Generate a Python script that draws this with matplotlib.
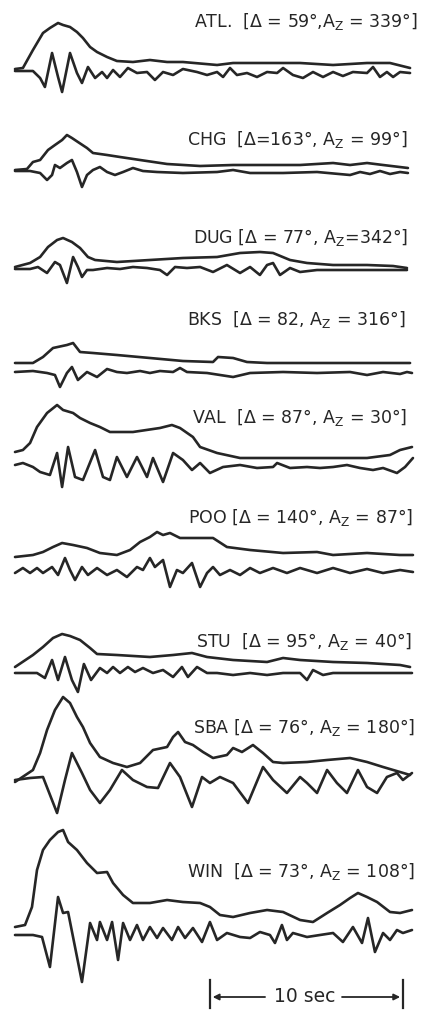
import numpy as np
import matplotlib.pyplot as plt

# estaciones y rotulos
labels = [
    "ATL.  [Δ = 59°,A$_\\mathregular{Z}$ = 339°]",
    "CHG  [Δ=163°, A$_\\mathregular{Z}$ = 99°]",
    "DUG [Δ = 77°, A$_\\mathregular{Z}$=342°]",
    "BKS  [Δ = 82, A$_\\mathregular{Z}$ = 316°]",
    "VAL  [Δ = 87°, A$_\\mathregular{Z}$ = 30°]",
    "POO [Δ = 140°, A$_\\mathregular{Z}$ = 87°]",
    "STU  [Δ = 95°, A$_\\mathregular{Z}$ = 40°]",
    "SBA [Δ = 76°, A$_\\mathregular{Z}$ = 180°]",
    "WIN  [Δ = 73°, A$_\\mathregular{Z}$ = 108°]",
]

# tiempo (s) y amplitud (unidades arbitrarias) -- envolvente y sismograma
atl_env_t = [0, 0.41, 0.93, 1.45, 1.81, 2.23, 2.49, 2.85, 3.21, 3.52, 3.89, 4.25, 4.77, 5.28, 6.11, 6.99, 7.88, 8.70,
             10.47, 11.30, 13.06, 14.77, 16.48, 18.24, 19.43, 20.47]
atl_env = [3, 4, 22, 39, 44, 49, 47, 45, 40, 34, 25, 20, 15, 11, 10, 12, 10, 10, 7, 9, 9, 9, 7, 9, 9, 4]
atl_wav_t = [0, 0.93, 1.30, 1.55, 1.92, 2.23, 2.44, 2.85, 3.21, 3.47, 3.78, 4.15, 4.51, 4.77, 5.08, 5.44, 5.85, 6.32,
             6.84, 7.25, 7.67, 8.19, 8.70, 9.43, 9.95, 10.47, 10.78, 11.14, 11.50, 12.02, 12.54, 13.06, 13.58, 13.89,
             14.40, 14.92, 15.44, 15.96, 16.48, 16.99, 17.51, 18.24, 18.55, 18.91, 19.27, 19.59, 19.95, 20.47]
atl_wav = [1, 1, -6, -15, 19, -5, -20, 19, -1, -11, 5, -6, 0, -6, 2, -5, 4, -1, 0, -8, 0, -3, 3, 0, -3, 0, -5, 4, -3,
           -1, -5, 0, -1, 4, -3, -6, 0, -5, 0, -4, 0, -1, 5, -5, 0, -5, 0, -1]

chg_env_t = [0, 0.62, 0.93, 1.30, 1.71, 2.07, 2.44, 2.69, 2.95, 3.26, 3.73, 4.04, 4.77, 5.44, 6.48, 7.88, 9.59, 11.30,
             13.06, 14.77, 16.48, 17.36, 18.24, 19.07, 20.36]
chg_env = [1, 2, 9, 11, 21, 26, 31, 36, 33, 29, 23, 18, 16, 14, 11, 7, 5, 6, 6, 6, 8, 6, 8, 6, 3]
chg_wav_t = [0, 0.78, 1.30, 1.66, 1.92, 2.07, 2.33, 2.69, 2.95, 3.21, 3.47, 3.73, 4.04, 4.40, 4.77, 5.18, 5.60, 6.11,
             6.63, 7.36, 8.70, 10.47, 11.30, 12.18, 13.89, 15.65, 17.36, 17.88, 18.39, 18.91, 19.43, 19.95, 20.36]
chg_wav = [0, 0, -2, -9, -4, 6, 3, 8, 11, -1, -16, -4, 1, 4, -1, -4, -1, 3, 0, -1, -2, -1, 1, -2, -2, -1, -4, -1, -3,
           0, -3, -1, -2]

dug_env_t = [0, 0.78, 1.30, 1.71, 2.18, 2.49, 2.95, 3.37, 3.78, 4.15, 5.28, 6.99, 8.70, 10.47, 11.66, 12.69, 13.37,
             14.25, 15.13, 16.48, 18.24, 19.59, 20.31]
dug_env = [3, 7, 13, 23, 30, 32, 28, 22, 13, 10, 8, 10, 12, 13, 17, 18, 17, 10, 7, 5, 5, 4, 2]
dug_wav_t = [0, 0.78, 1.19, 1.66, 2.07, 2.33, 2.69, 3.01, 3.26, 3.47, 3.73, 4.04, 4.77, 5.44, 6.11, 6.84, 7.51, 7.88,
             8.29, 8.91, 9.59, 10.26, 10.98, 11.66, 12.18, 12.69, 13.06, 13.37, 13.73, 14.25, 14.77, 15.65, 17.36,
             19.07, 20.31]
dug_wav = [1, 1, 3, -3, 8, 5, -13, 13, 3, -7, 0, 0, 2, 1, 3, 2, 0, -5, 3, 2, 3, -2, 5, -3, 3, -5, 5, 7, -5, 2, -2, 0,
           0, 0, 0]

bks_env_t = [0, 0.93, 1.45, 1.97, 2.69, 3.01, 3.37, 4.04, 5.28, 6.99, 8.70, 10.26, 10.52, 11.30, 12.02, 13.06, 14.77,
             16.48, 18.24, 20.47]
bks_env = [9, 9, 15, 24, 27, 29, 20, 19, 17, 14, 11, 10, 15, 14, 10, 9, 9, 9, 9, 9]
bks_wav_t = [0, 0.93, 1.66, 2.07, 2.33, 2.69, 2.95, 3.26, 3.73, 4.25, 4.77, 5.28, 5.80, 6.48, 6.99, 7.51, 8.19, 8.55,
             8.91, 9.95, 11.30, 12.18, 13.89, 15.65, 17.36, 18.24, 19.07, 19.95, 20.31, 20.57]
bks_wav = [0, 1, -1, -3, -15, -1, 5, -8, 0, -5, 3, 0, -1, 1, -1, 1, 0, 4, 0, -1, -5, -1, 0, -1, 0, -3, 0, -2, 0, -1]

val_env_t = [0, 0.41, 0.78, 1.14, 1.66, 2.18, 2.49, 3.01, 3.37, 3.89, 4.40, 4.92, 6.11, 7.51, 8.13, 8.55, 9.22, 9.59,
             10.47, 11.66, 13.06, 14.77, 16.48, 18.24, 19.43, 19.95, 20.57]
val_env = [13, 15, 22, 38, 52, 60, 55, 52, 47, 42, 38, 33, 33, 37, 40, 37, 28, 18, 12, 7, 7, 7, 7, 7, 10, 15, 18]
val_wav_t = [0, 0.41, 0.93, 1.30, 1.81, 2.18, 2.44, 2.75, 3.11, 3.52, 4.15, 4.56, 4.92, 5.28, 5.80, 6.32, 6.84, 7.15,
             7.67, 8.19, 8.70, 9.17, 9.59, 10.10, 10.78, 11.66, 12.54, 13.37, 13.58, 14.25, 15.13, 15.80, 16.48,
             17.20, 17.88, 18.55, 19.07, 19.79, 20.21, 20.62]
val_wav = [0, 2, -2, -7, -10, 12, -22, 18, -12, -15, 15, -12, -15, 8, -12, 8, -12, 7, -17, 12, 5, -5, 2, -8, -2, 0,
           -3, -2, 2, -3, -2, -3, -2, 0, -3, -5, -3, -8, -2, 7]

poo_env_t = [0, 0.93, 1.45, 1.97, 2.44, 3.01, 3.73, 4.40, 5.28, 5.96, 6.48, 6.99, 7.36, 7.67, 8.03, 8.55, 9.59, 10.26,
             10.98, 12.18, 13.89, 15.65, 16.48, 18.24, 19.95, 20.62]
poo_env = [13, 15, 18, 23, 27, 25, 22, 17, 15, 20, 28, 33, 38, 35, 37, 32, 32, 32, 23, 20, 17, 18, 15, 17, 15, 15]
poo_wav_t = [0, 0.41, 0.78, 1.14, 1.45, 1.92, 2.23, 2.59, 2.85, 3.11, 3.47, 3.78, 4.25, 4.77, 5.28, 5.80, 6.32, 6.63,
             6.99, 7.25, 7.67, 8.03, 8.39, 8.70, 9.17, 9.59, 9.95, 10.26, 10.62, 11.14, 11.66, 12.18, 12.69, 13.37,
             14.09, 14.77, 15.65, 16.48, 17.36, 18.24, 19.07, 19.95, 20.62]
poo_wav = [-3, 2, -3, 2, -3, 3, -5, 12, 0, -10, 3, -5, 2, -5, 0, -7, 3, 0, 12, 3, 10, -17, 0, -3, 7, -17, -3, 3, -5,
           0, -5, 2, -3, 2, -3, 2, -3, 2, -3, 1, -3, 0, -2]

stu_env_t = [0, 0.93, 1.45, 1.97, 2.44, 2.85, 3.37, 3.89, 4.25, 5.28, 6.99, 8.19, 9.17, 9.95, 11.30, 13.06, 13.89,
             14.77, 16.48, 18.24, 19.95, 20.47]
stu_env = [6, 18, 26, 35, 39, 37, 33, 25, 19, 18, 16, 18, 20, 16, 13, 11, 15, 13, 11, 10, 8, 6]
stu_wav_t = [0, 1.14, 1.55, 1.92, 2.23, 2.59, 2.95, 3.26, 3.57, 3.94, 4.40, 4.77, 5.08, 5.44, 5.85, 6.22, 6.63, 7.15,
             7.67, 8.19, 8.65, 8.96, 9.43, 9.95, 10.47, 11.30, 12.18, 13.06, 13.89, 14.77, 15.13, 15.44, 15.96, 16.48,
             18.24, 20.57]
stu_wav = [0, 0, -5, 13, -7, 16, -7, -19, 9, -7, 5, 0, 6, 0, 6, 1, 5, 0, 3, -4, 6, -4, 6, 0, 0, -2, 0, -2, 0, 0, -7,
           3, -2, 0, 0, 0]

sba_env_t = [0, 0.93, 1.30, 1.66, 2.07, 2.49, 2.85, 3.21, 3.52, 3.89, 4.40, 5.08, 5.80, 6.48, 7.15, 7.88, 8.19, 8.45,
             8.81, 9.22, 9.74, 10.26, 10.98, 11.30, 11.76, 12.33, 12.85, 13.37, 13.89, 15.13, 16.17, 17.36, 18.24,
             19.07, 19.95, 20.47]
sba_env = [0, 12, 29, 52, 72, 85, 79, 65, 55, 39, 25, 19, 15, 19, 32, 35, 45, 50, 40, 37, 30, 24, 27, 34, 30, 37, 29,
           20, 19, 20, 22, 24, 20, 15, 10, 7]
sba_wav_t = [0, 0.78, 1.45, 2.18, 2.59, 2.95, 3.47, 3.89, 4.40, 4.92, 5.54, 6.11, 6.84, 7.41, 8.03, 8.55, 9.17, 9.69,
             10.10, 10.62, 11.30, 12.07, 12.85, 13.37, 14.09, 14.77, 15.13, 15.65, 16.17, 16.68, 17.20, 17.77, 18.24,
             18.76, 19.27, 19.79, 20.10, 20.57]
sba_wav = [2, 4, 5, -31, 2, 29, 9, -8, -21, -8, 12, 2, -5, -6, 19, 5, -25, 5, -1, 5, -1, -21, 15, 2, -11, 5, -1, -11,
           12, -1, -11, 12, -5, -11, 5, 9, 2, 9]

win_env_t = [0, 0.52, 0.88, 1.14, 1.45, 1.81, 2.23, 2.49, 2.75, 3.21, 3.73, 4.25, 4.77, 5.08, 5.60, 6.11, 6.99, 7.88,
             8.70, 9.59, 10.10, 10.62, 11.30, 12.18, 13.06, 13.89, 14.77, 15.44, 16.17, 16.84, 17.36, 17.77, 18.24,
             18.76, 19.43, 19.95, 20.57]
win_env = [8, 10, 28, 65, 85, 95, 103, 105, 93, 85, 72, 62, 63, 52, 40, 32, 32, 35, 33, 32, 28, 20, 18, 22, 25, 23,
           15, 13, 22, 30, 37, 42, 38, 33, 23, 22, 25]
win_wav_t = [0, 0.93, 1.40, 1.81, 2.23, 2.49, 2.75, 3.11, 3.47, 3.89, 4.25, 4.40, 4.77, 5.03, 5.34, 5.60, 5.96, 6.32,
             6.63, 6.99, 7.36, 7.67, 8.13, 8.45, 8.81, 9.22, 9.69, 10.10, 10.47, 10.98, 11.66, 12.18, 12.69, 13.21,
             13.47, 13.83, 14.09, 14.40, 15.13, 15.80, 16.48, 16.99, 17.51, 17.98, 18.29, 18.65, 19.07, 19.43, 19.79,
             20.10, 20.57]
win_wav = [0, 0, -2, -32, 38, 22, 23, -12, -47, 12, -5, 13, -5, 13, -25, 12, -5, 10, -5, 8, -3, 7, -5, 8, -3, 7, -7,
           13, -5, 2, -2, -3, 3, 0, -8, 10, -5, 2, -2, 0, 2, -7, 8, -8, 17, -17, 2, -5, 5, 2, 5]

traces = [
    (atl_env_t, atl_env, atl_wav_t, atl_wav),
    (chg_env_t, chg_env, chg_wav_t, chg_wav),
    (dug_env_t, dug_env, dug_wav_t, dug_wav),
    (bks_env_t, bks_env, bks_wav_t, bks_wav),
    (val_env_t, val_env, val_wav_t, val_wav),
    (poo_env_t, poo_env, poo_wav_t, poo_wav),
    (stu_env_t, stu_env, stu_wav_t, stu_wav),
    (sba_env_t, sba_env, sba_wav_t, sba_wav),
    (win_env_t, win_env, win_wav_t, win_wav),
]

# posicion vertical de cada par de trazas y de los rotulos (px desde arriba)
baselines = [72, 171, 270, 372, 465, 570, 673, 782, 935]
label_y = [22, 140, 237, 320, 417, 517, 642, 727, 872]
label_x = [20.88, 20.36, 20.36, 20.26, 20.31, 20.62, 20.57, 20.72, 20.72]

px_per_s = 19.3
cor = "#262626"

fig = plt.figure(figsize=(4.32, 10.11), dpi=100)
ax = fig.add_axes([0, 0, 1, 1])
ax.set_xlim(-15 / px_per_s, (432 - 15) / px_per_s)
ax.set_ylim(-1011, 0)
ax.axis("off")

for i, (et, ea, wt, wa) in enumerate(traces):
    b = -baselines[i]
    ax.plot(et, b + np.array(ea), color=cor, lw=1.9, solid_joinstyle="round", solid_capstyle="round")
    ax.plot(wt, b + np.array(wa), color=cor, lw=1.9, solid_joinstyle="round", solid_capstyle="round")
    ax.text(label_x[i], -label_y[i], labels[i], ha="right", va="center", fontsize=12.5, color=cor)

# barra de escala 10 s
t0, t1 = 10.1, 20.1
yb = -997
ax.plot([t0, t0], [yb + 17, yb - 11], color=cor, lw=1.6)
ax.plot([t1, t1], [yb + 17, yb - 11], color=cor, lw=1.6)
ax.annotate("", xy=(t0, yb), xytext=(13.1, yb),
            arrowprops=dict(arrowstyle="-|>", color=cor, lw=1.3, mutation_scale=9))
ax.annotate("", xy=(t1, yb), xytext=(16.8, yb),
            arrowprops=dict(arrowstyle="-|>", color=cor, lw=1.3, mutation_scale=9))
ax.text((t0 + t1) / 2 - 0.1, yb, "10 sec", ha="center", va="center", fontsize=13.5, color=cor)

plt.savefig("out.png", dpi=100)
